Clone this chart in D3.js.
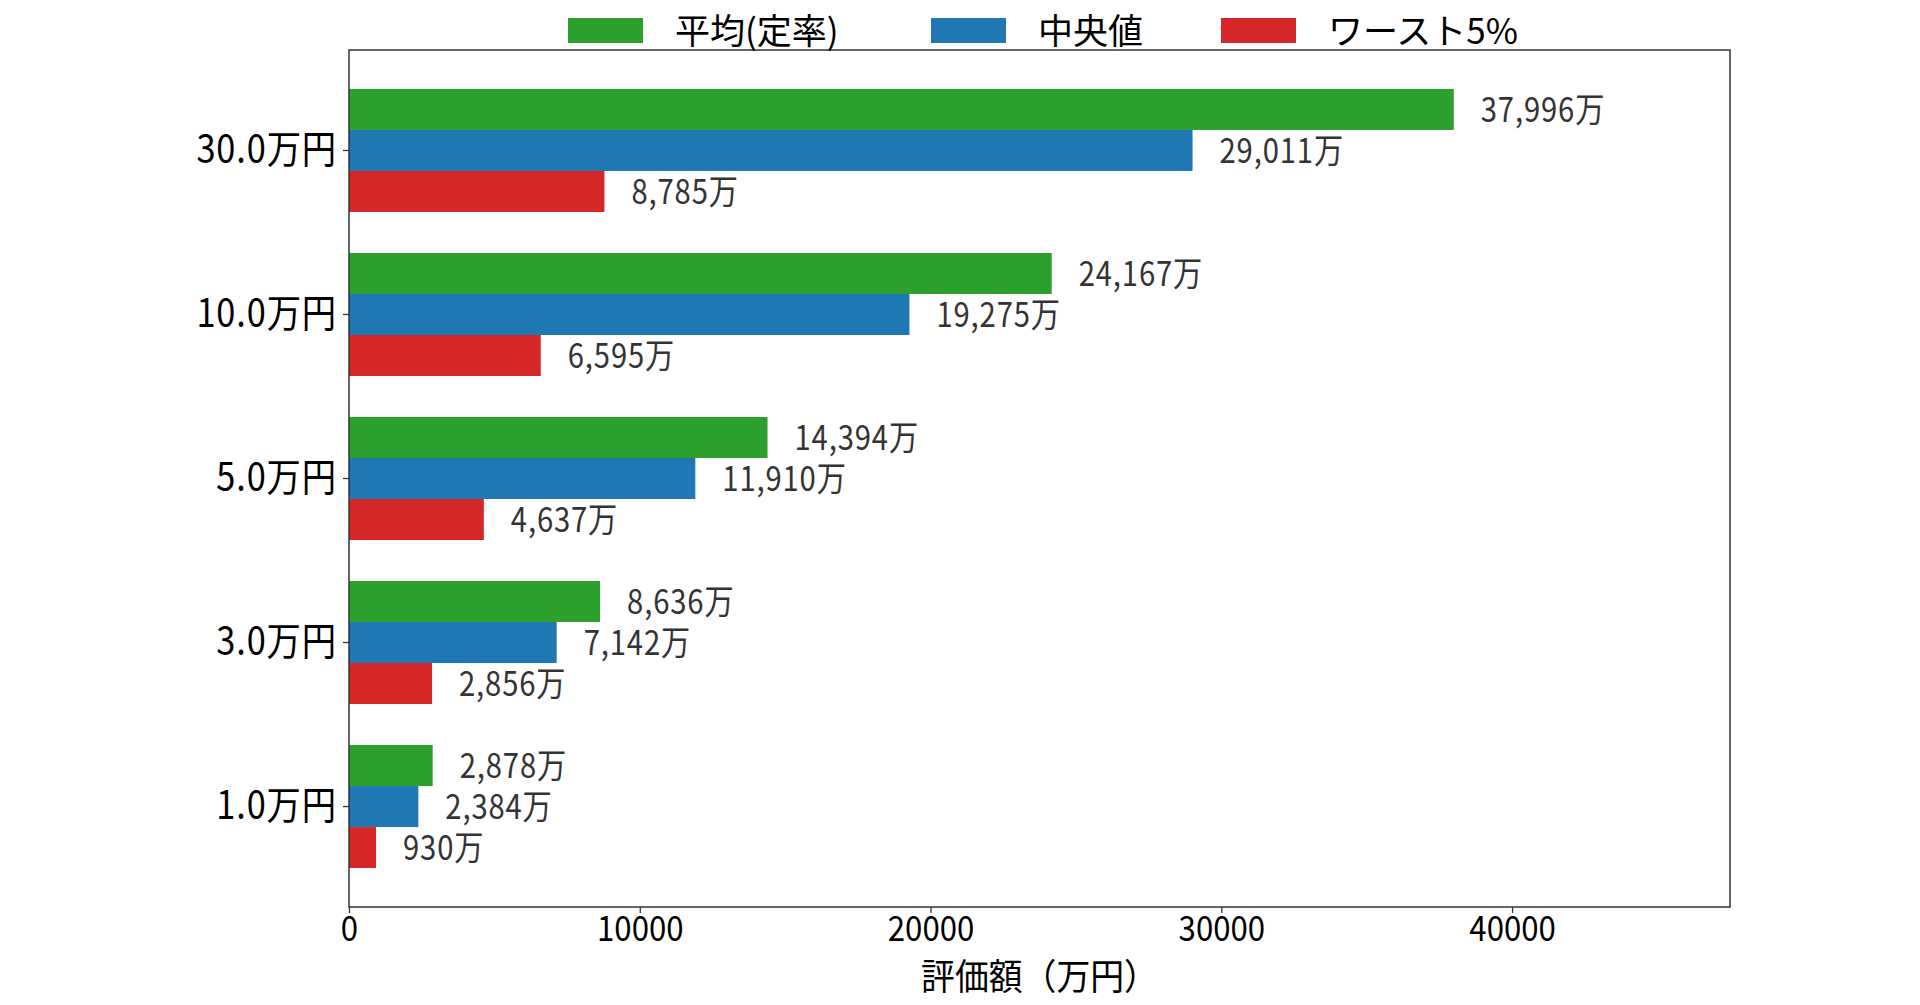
<!DOCTYPE html>
<meta charset="utf-8">
<title>評価額</title>
<style type="text/css">
  body {margin:0; background:#fff;}
  text {font-family:"Noto Sans CJK JP", sans-serif;}
</style>
<body>
<!-- Load d3.js -->
<script src="https://d3js.org/d3.v7.min.js"></script>
<div id="chart"></div>
<script>
// data (top to bottom, as drawn)
var categories = ["30.0万円", "10.0万円", "5.0万円", "3.0万円", "1.0万円"];
var seriesNames = ["平均(定率)", "中央値", "ワースト5%"];
var meanValues = [37996, 24167, 14394, 8636, 2878];
var medianValues = [29011, 19275, 11910, 7142, 2384];
var worstValues = [8785, 6595, 4637, 2856, 930];
var xTicks = [0, 10000, 20000, 30000, 40000];
var colors = ["#2ca02c", "#1f77b4", "#d62728"];

var seriesValues = [meanValues, medianValues, worstValues];

// plot area
var W = 1920, H = 1005;
var margin = {top: 50, right: 190, bottom: 98, left: 349},
    width = W - margin.left - margin.right,
    height = H - margin.top - margin.bottom;

var svg = d3.select("#chart")
  .append("svg")
    .attr("width", W)
    .attr("height", H);

var g = svg.append("g")
    .attr("transform", "translate(" + margin.left + "," + margin.top + ")");

// the original font is tall and narrow: squeeze text horizontally
function condense(sel, sx) {
  sel.each(function() {
    var t = d3.select(this);
    var x0 = +t.attr("x") || 0;
    t.attr("x", x0 / sx).attr("transform", "scale(" + sx + ",1)");
  });
}

// scales
var x = d3.scaleLinear()
  .domain([0, d3.max(meanValues) * 1.25])
  .range([0, width]);

var y = d3.scaleBand()
  .domain(categories)
  .range([0, height])
  .paddingInner(0.25)
  .paddingOuter(0.2375);

var ySub = d3.scaleBand()
  .domain(seriesNames)
  .range([0, y.bandwidth()]);

// bars + value labels
seriesNames.forEach(function(name, si) {
  var rows = categories.map(function(c, i) { return {cat: c, value: seriesValues[si][i]}; });
  var grp = g.append("g");
  grp.selectAll("rect")
    .data(rows)
    .enter().append("rect")
      .attr("x", 0)
      .attr("y", function(d) { return y(d.cat) + ySub(name); })
      .attr("width", function(d) { return x(d.value); })
      .attr("height", ySub.bandwidth())
      .attr("fill", colors[si]);
  grp.selectAll("text")
    .data(rows)
    .enter().append("text")
      .attr("x", function(d) { return x(d.value) + 27; })
      .attr("y", function(d) { return y(d.cat) + ySub(name) + ySub.bandwidth() / 2; })
      .attr("dy", "0.36em")
      .attr("font-size", 34)
      .attr("letter-spacing", 1)
      .attr("fill", "#333")
      .text(function(d) { return d3.format(",")(d.value) + "万"; })
      .call(condense, 0.86);
});

// axes
var xAxis = g.append("g")
  .attr("transform", "translate(0," + height + ")")
  .call(d3.axisBottom(x).tickValues(xTicks).tickFormat(d3.format("d")).tickSize(6).tickPadding(3));
xAxis.selectAll("text")
  .attr("font-size", 35).attr("fill", "#000")
  .style("font-family", "\"Noto Sans CJK JP\", sans-serif")
  .call(condense, 0.89);

var yAxis = g.append("g")
  .call(d3.axisLeft(y).tickSize(6).tickPadding(6));
yAxis.selectAll("text")
  .attr("font-size", 39).attr("fill", "#000")
  .attr("letter-spacing", 1)
  .style("font-family", "\"Noto Sans CJK JP\", sans-serif")
  .call(condense, 0.88);

g.selectAll(".domain").remove();
g.selectAll(".tick line").attr("stroke", "#333").attr("stroke-width", 1.3);

// frame
g.append("rect")
  .attr("width", width)
  .attr("height", height)
  .attr("fill", "none")
  .attr("stroke", "#333")
  .attr("stroke-width", 1.5);

// x label
g.append("text")
  .attr("x", width / 2)
  .attr("y", height + 70)
  .attr("dy", "0.36em")
  .attr("text-anchor", "middle")
  .attr("font-size", 36)
  .attr("fill", "#000")
  .text("評価額（万円）")
  .call(condense, 0.94);

// legend
var legendX = [568, 931, 1221];
var legend = svg.append("g");
seriesNames.forEach(function(name, si) {
  legend.append("rect")
    .attr("x", legendX[si])
    .attr("y", 18)
    .attr("width", 75)
    .attr("height", 25)
    .attr("fill", colors[si]);
  legend.append("text")
    .attr("x", legendX[si] + 107)
    .attr("y", 31)
    .attr("dy", "0.36em")
    .attr("font-size", 35)
    .attr("fill", "#000")
    .text(name);
});
</script>
</body>
